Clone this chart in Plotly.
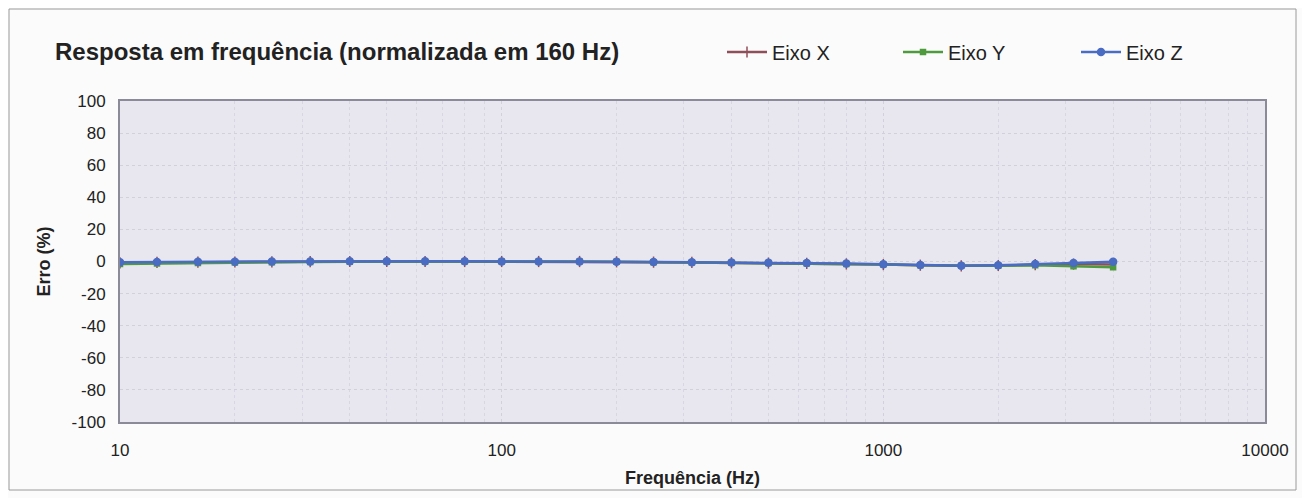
import plotly.graph_objects as go

freq = [10, 12.5, 16, 20, 25, 31.5, 40, 50, 63, 80, 100, 125, 160, 200, 250,
        315, 400, 500, 630, 800, 1000, 1250, 1600, 2000, 2500, 3150, 4000]
eixo_x = [-0.8, -0.6, -0.4, -0.3, -0.2, -0.1, 0.0, 0.0, 0.0, 0.0, 0.0, 0.0, 0.0,
          -0.2, -0.4, -0.6, -0.8, -1.0, -1.2, -1.5, -1.9, -2.3, -2.7, -2.5, -1.9, -1.6, -1.8]
eixo_y = [-1.5, -1.2, -0.9, -0.7, -0.5, -0.3, -0.2, -0.1, -0.1, 0.0, 0.0, 0.0, 0.0,
          -0.2, -0.4, -0.6, -0.8, -1.0, -1.2, -1.5, -1.9, -2.3, -2.7, -2.6, -2.3, -2.9, -3.6]
eixo_z = [-0.5, -0.3, -0.2, -0.1, 0.0, 0.0, 0.1, 0.1, 0.1, 0.1, 0.0, 0.0, 0.0,
          -0.2, -0.3, -0.5, -0.6, -0.8, -1.0, -1.3, -1.7, -2.2, -2.6, -2.4, -1.5, -1.0, -0.2]

y_ticks = list(range(-100, 101, 20))
y_labels = [str(v) for v in y_ticks]
x_ticks = [10, 100, 1000, 10000]
x_labels = [str(v) for v in x_ticks]

# figure geometry (page is offset by 8px body margin)
L, R, T, B = 112, 53, 93, 84
W, H = 1310, 498
pw = W - L - R
ph = H - T - B

def px(xf):
    return (xf - L) / pw

def py(yf):
    return (H - B - yf) / ph

series = [
    ("Eixo X", eixo_x, "#8E4F5A", "line-ns", 8, "legend", 714),
    ("Eixo Y", eixo_y, "#4F9A3E", "square", 5, "legend2", 890),
    ("Eixo Z", eixo_z, "#4A6CC2", "circle", 7, "legend3", 1068),
]

fig = go.Figure()
legends = {}
for name, vals, color, sym, ms, lg, lx in series:
    fig.add_trace(go.Scatter(
        x=freq, y=vals, name=name, mode="lines+markers",
        line=dict(color=color, width=2.5),
        marker=dict(symbol=sym, size=ms, color=color,
                    line=dict(color=color, width=1.5)),
        legend=lg,
    ))
    legends[lg] = dict(orientation="h", x=px(lx), xanchor="left",
                       y=py(44), yanchor="middle",
                       bgcolor="rgba(0,0,0,0)", font=dict(size=20),
                       itemwidth=40)

fig.update_layout(
    width=W, height=H,
    margin=dict(l=L, r=R, t=T, b=B),
    paper_bgcolor="#FBFBFB",
    plot_bgcolor="#E8E6EF",
    font=dict(family="Liberation Sans, Arial, sans-serif", size=16, color="#222222"),
    title=dict(text="<b>Resposta em frequência (normalizada em 160 Hz)</b>",
               x=47 / W, xanchor="left", y=1 - 44 / H, yanchor="middle",
               font=dict(size=24, color="#222222")),
    showlegend=True,
    **legends,
)

fig.update_xaxes(
    type="log", range=[1, 4], tickvals=x_ticks, ticktext=x_labels,
    showgrid=True, gridcolor="#D2D0DA", griddash="dot", gridwidth=1,
    minor=dict(showgrid=True, gridcolor="#D8D6E0", griddash="dot",
               dtick="D1"),
    showline=True, linecolor="#8A8A98", linewidth=2, mirror=True,
    zeroline=False, ticks="", ticklabelstandoff=12,
    tickfont=dict(size=17),
    title=dict(text="<b>Frequência (Hz)</b>", font=dict(size=18), standoff=12),
)
fig.update_yaxes(
    range=[-100, 100], tickvals=y_ticks, ticktext=y_labels,
    showgrid=True, gridcolor="#D2D0DA", griddash="dot", gridwidth=1,
    showline=True, linecolor="#8A8A98", linewidth=2, mirror=True,
    zeroline=False, ticks="", ticklabelstandoff=9,
    tickfont=dict(size=17),
    title=dict(text="<b>Erro (%)</b>", font=dict(size=18), standoff=16),
)

# outer chart frame
fig.add_shape(type="rect", xref="paper", yref="paper",
              x0=px(1), x1=px(1288), y0=py(482), y1=py(1),
              line=dict(color="#9A9A9A", width=1), layer="below")

fig.write_html("out.html")
